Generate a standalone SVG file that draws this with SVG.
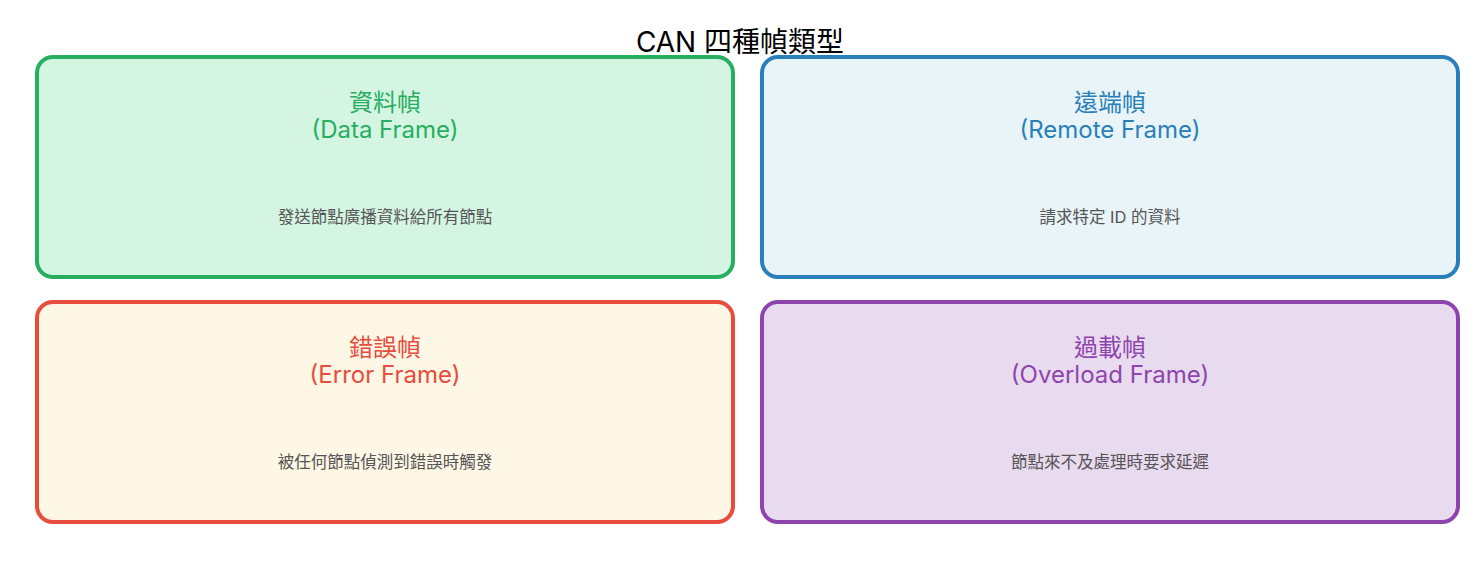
<svg xmlns="http://www.w3.org/2000/svg" width="1480" height="580" viewBox="0 0 1480 580">
<style>
text{font-family:Inter,"Noto Sans CJK TC","Noto Sans",sans-serif;text-anchor:middle}
.title{font-size:28px;fill:#000}
.h{font-size:24px}
.d{font-size:16.5px;fill:#555}
.box{stroke-width:4}
</style>
<rect width="1480" height="580" fill="#fff"/>
<text class="title" x="740" y="52">CAN 四種幀類型</text>
<g id="data">
<rect class="box" x="37" y="57" width="696" height="220" rx="16" fill="#d5f5e3" stroke="#27ae60"/>
<text class="h" x="385" y="111" fill="#27ae60">資料幀</text>
<text class="h" x="385" y="138" fill="#27ae60">(Data Frame)</text>
<text class="d" x="385" y="223">發送節點廣播資料給所有節點</text>
</g>
<g id="remote">
<rect class="box" x="762" y="57" width="696" height="220" rx="16" fill="#e8f4f8" stroke="#2980b9"/>
<text class="h" x="1110" y="111" fill="#2980b9">遠端幀</text>
<text class="h" x="1110" y="138" fill="#2980b9">(Remote Frame)</text>
<text class="d" x="1110" y="223">請求特定 ID 的資料</text>
</g>
<g id="error">
<rect class="box" x="37" y="302" width="696" height="220" rx="16" fill="#fef7e6" stroke="#e74c3c"/>
<text class="h" x="385" y="356" fill="#e74c3c">錯誤幀</text>
<text class="h" x="385" y="383" fill="#e74c3c">(Error Frame)</text>
<text class="d" x="385" y="468">被任何節點偵測到錯誤時觸發</text>
</g>
<g id="overload">
<rect class="box" x="762" y="302" width="696" height="220" rx="16" fill="#e8daef" stroke="#8e44ad"/>
<text class="h" x="1110" y="356" fill="#8e44ad">過載幀</text>
<text class="h" x="1110" y="383" fill="#8e44ad">(Overload Frame)</text>
<text class="d" x="1110" y="468">節點來不及處理時要求延遲</text>
</g>
<g id="connectors"/>
</svg>
